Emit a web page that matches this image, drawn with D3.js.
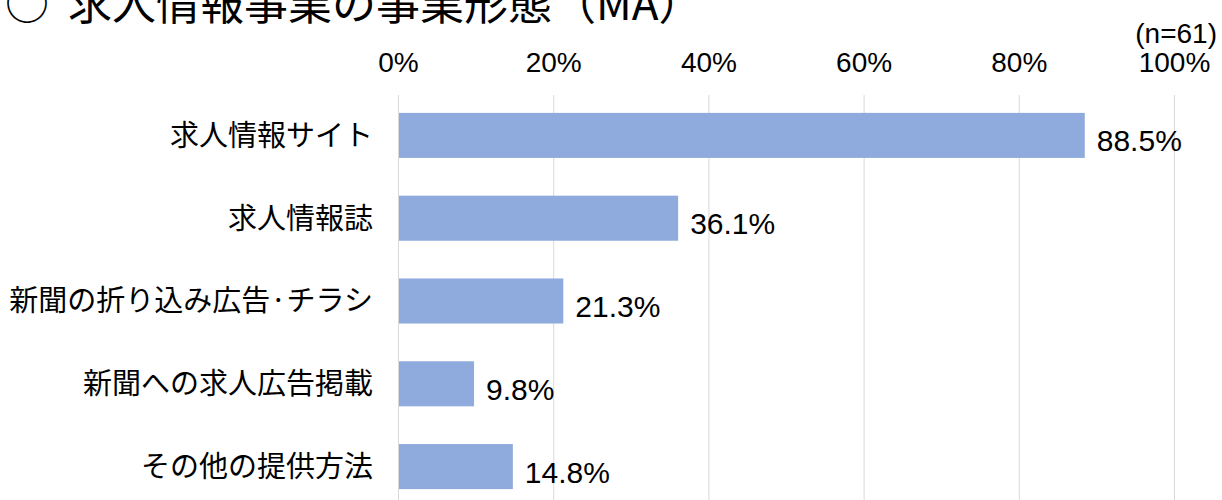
<!DOCTYPE html>
<html>
<head>
<meta charset="utf-8">
<script src="https://cdn.jsdelivr.net/npm/d3@7/dist/d3.min.js"></script>
<style>
  html, body { margin: 0; padding: 0; background: #ffffff; }
  svg { display: block; }
</style>
</head>
<body>
<svg id="chart" width="1222" height="500"></svg>
<script>
const categories = ["求人情報サイト", "求人情報誌", "新聞の折り込み広告·チラシ", "新聞への求人広告掲載", "その他の提供方法"];
const values = [88.5, 36.1, 21.3, 9.8, 14.8];
const tickValues = [0, 20, 40, 60, 80, 100];
const titleText = "○";
const titleMain = "求人情報事業の事業形態（MA）";
const noteText = "(n=61)";

const latin = "'Liberation Sans', Arial, 'Noto Sans CJK JP', sans-serif";
const cjk = "'Noto Sans CJK JP', 'Liberation Sans', sans-serif";

const svg = d3.select("#chart");
const plotLeft = 398, plotRight = 1174, plotTop = 94, plotBottom = 508;

const x = d3.scaleLinear().domain([0, 100]).range([plotLeft, plotRight]);
const y = d3.scaleBand().domain(categories).range([plotTop, plotBottom])
  .paddingInner(0.456).paddingOuter(0.228);

// title
const t = svg.append("text").attr("x", 5).attr("y", 20)
  .attr("font-family", cjk).attr("font-size", 44).attr("fill", "#000");
t.append("tspan").text(titleText);
t.append("tspan").attr("x", 68).text(titleMain);

// n note
svg.append("text").attr("x", 1217).attr("y", 43).attr("text-anchor", "end")
  .attr("font-family", latin).attr("font-size", 28).attr("fill", "#000").text(noteText);

// gridlines
svg.append("g").selectAll("line").data(tickValues).join("line")
  .attr("x1", d => x(d) + 0.5).attr("x2", d => x(d) + 0.5)
  .attr("y1", plotTop + 1).attr("y2", 500)
  .attr("stroke", "#d9d9d9").attr("stroke-width", 1);

// top axis labels
const axis = d3.axisTop(x).tickValues(tickValues).tickFormat(d => d + "%").tickSize(0).tickPadding(0);
const ag = svg.append("g").attr("transform", "translate(0,72)").call(axis);
ag.select(".domain").remove();
ag.selectAll("text").attr("font-family", latin).attr("font-size", 28).attr("fill", "#000")
  .attr("dy", 0);

// bars
svg.append("g").selectAll("rect").data(values).join("rect")
  .attr("x", x(0) + 1)
  .attr("y", (d, i) => y(categories[i]))
  .attr("width", d => x(d) - x(0) - 1)
  .attr("height", y.bandwidth())
  .attr("fill", "#8faadc");

// value labels
svg.append("g").selectAll("text").data(values).join("text")
  .attr("x", d => x(d) + 12)
  .attr("y", (d, i) => y(categories[i]) + y.bandwidth() / 2 + 16)
  .attr("font-family", latin).attr("font-size", 30).attr("fill", "#000")
  .text(d => d.toFixed(1) + "%");

// category labels
svg.append("g").selectAll("text").data(categories).join("text")
  .attr("x", 373)
  .attr("y", d => y(d) + y.bandwidth() / 2)
  .attr("dy", "0.36em")
  .attr("text-anchor", "end")
  .attr("font-family", cjk).attr("font-size", 29).attr("fill", "#000")
  .text(d => d);
</script>
</body>
</html>
